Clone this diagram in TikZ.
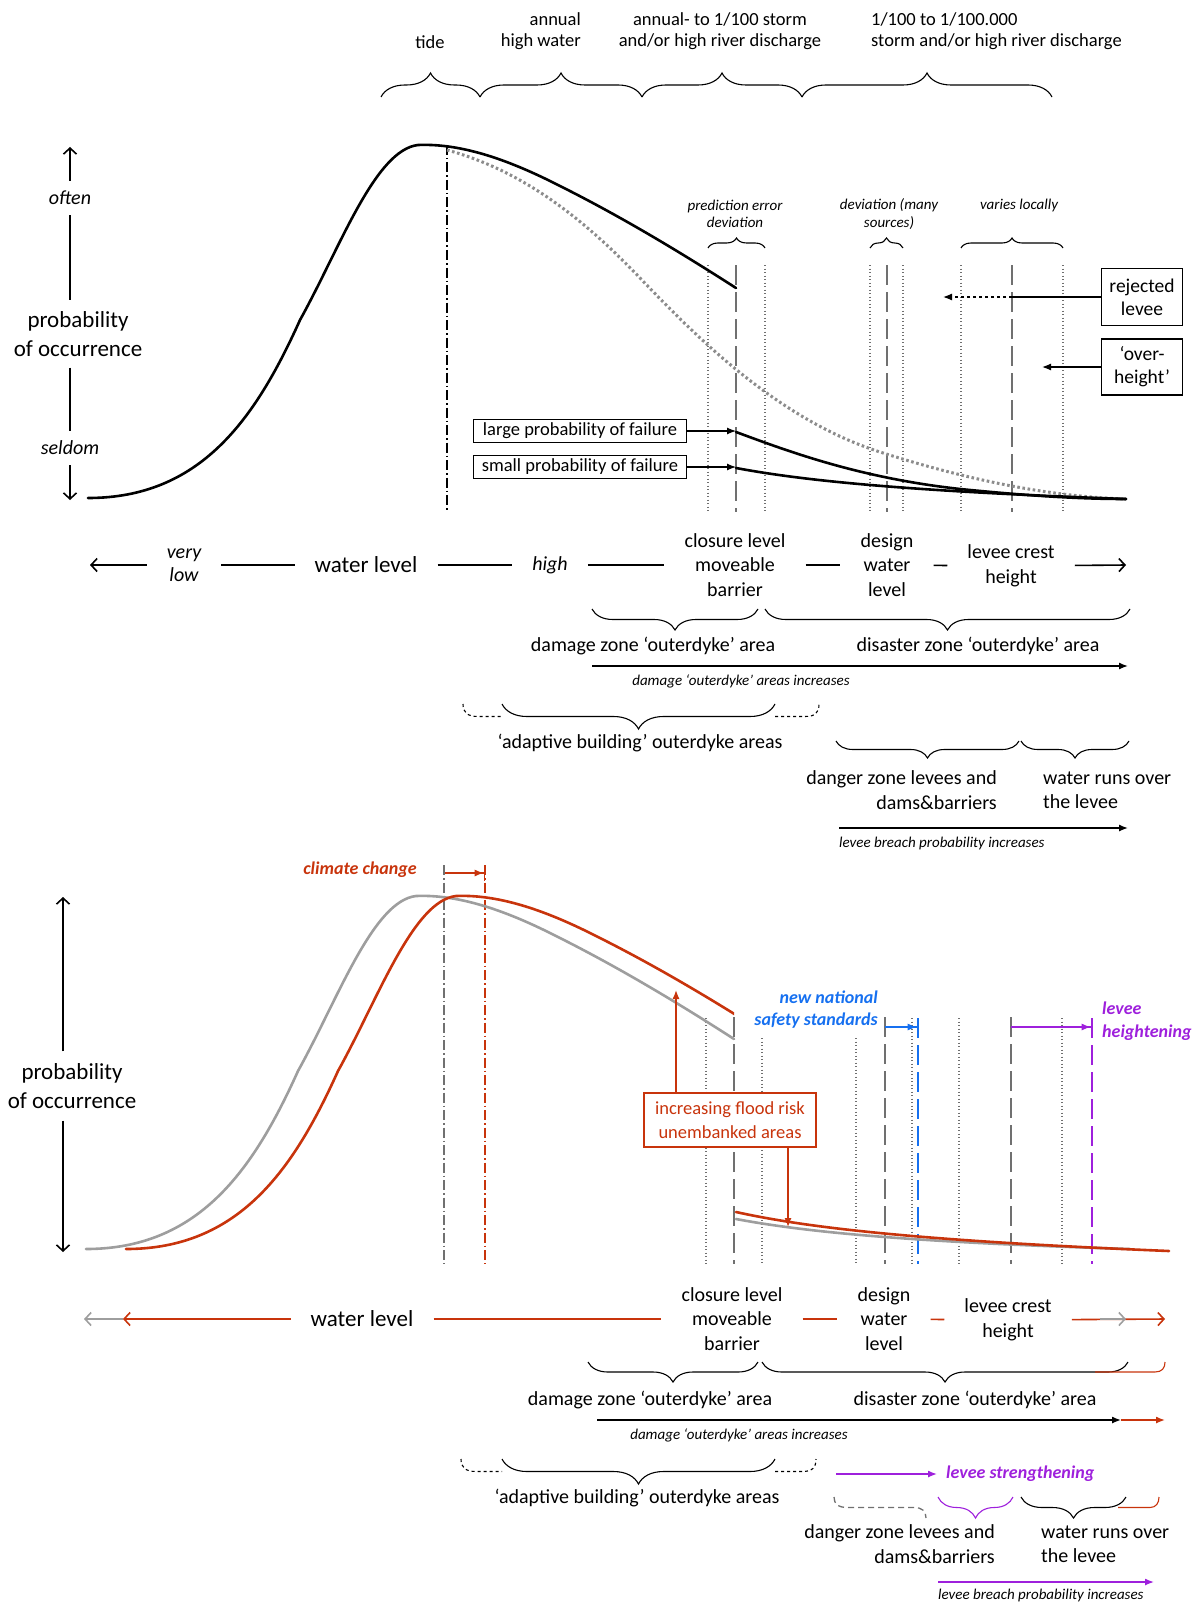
\documentclass[tikz,border=0pt]{standalone}
\usepackage{fontspec}
\setmainfont{Carlito}
\usetikzlibrary{arrows.meta,decorations.pathreplacing,positioning}
\definecolor{floodred}{RGB}{200,52,12}
\definecolor{curvegray}{RGB}{158,158,158}
\definecolor{dotgray}{RGB}{140,140,140}
\definecolor{linegray}{RGB}{112,112,112}
\definecolor{safetyblue}{RGB}{22,112,240}
\definecolor{leveepurple}{RGB}{158,32,220}
\newcommand{\sz}[2]{\fontsize{#1}{#2}\selectfont}
% frequency curve: rising flank, peak and falling flank
\newcommand{\freqcurve}{(88,498) .. controls (200,498) and (255,420) .. (300,320)
  .. controls (340,248) and (375,150) .. (418,145)
  .. controls (465,143) and (515,163) .. (560,186)
  .. controls (620,216) and (680,252) .. (736,288)}

\begin{document}
\begin{tikzpicture}[x=1pt,y=-1pt]

\tikzset{
  lbl/.style={inner sep=0pt, align=center, font=\sz{20}{24.5}},
  axlbl/.style={lbl, inner xsep=20pt},
  biglbl/.style={font=\sz{23}{27}},
  sidelbl/.style={lbl, font=\sz{23}{28.5}, inner ysep=11pt},
  toplbl/.style={inner sep=0pt, align=center, font=\sz{18.5}{21.5}},
  note/.style={inner sep=0pt, align=center, font=\sz{15}{17.5}\itshape},
  tiny/.style={inner sep=0pt, font=\sz{15}{17}\itshape},
  hint/.style={inner sep=0pt, font=\sz{18}{22}\bfseries\itshape},
  box/.style={draw, line width=1.2pt, inner sep=0pt, align=center},
  axis/.style={line width=1.6pt},
  openhead/.style={-{Straight Barb[length=6pt,width=13pt]}},
  solidhead/.style={-{Latex[length=9pt,width=7pt]}},
  barhead/.style={-{Latex[length=9pt,width=7pt]Bar[width=16pt]}},
  bru/.style={decorate, decoration={brace, amplitude=#1}, line width=1.1pt},
  brd/.style={decorate, decoration={brace, mirror, amplitude=#1}, line width=1.1pt},
  curve/.style={line width=2.6pt, line cap=round},
  dotcurve/.style={dotgray, line width=3pt, dash pattern=on 2.6pt off 2.6pt},
  dotline/.style={linegray, line width=1.3pt, dash pattern=on 1.3pt off 2.2pt},
  dashline/.style={linegray, line width=1.8pt, dash pattern=on 20pt off 7pt},
  dashdot/.style={line width=1.2pt, dash pattern=on 10pt off 3pt on 1.5pt off 3pt}
}

\useasboundingbox (0,0) rectangle (1203,1605);

% ---------------- upper graph ----------------
\node[toplbl] (tide) at (430,42) {tide};
\node[toplbl, align=right, anchor=east] (annual) at (581,31) {annual\\high water};
\node[toplbl] (storm) at (720,31) {annual- to 1/100 storm\\and/or high river discharge};
\node[toplbl, align=left, anchor=west] (extreme) at (871,31) {1/100 to 1/100.000\\storm and/or high river discharge};
\draw[bru=24] (381,97) -- (480,97);
\draw[bru=24] (480,97) -- (642,97);
\draw[bru=24] (642,97) -- (802,97);
\draw[bru=24] (802,97) -- (1052,97);

\node[lbl, font=\sz{20}{24}\itshape, inner ysep=10pt] (often) at (70,198) {often};
\node[sidelbl] (prob) at (78,334) {probability\\of occurrence};
\node[lbl, font=\sz{20}{24}\itshape, inner ysep=10pt] (seldom) at (70,448) {seldom};
\coordinate (probtop) at (70,147);
\coordinate (probbot) at (70,500);
\draw[axis, openhead] (often) -- (probtop);
\draw[axis] (often.south) -- (often.south |- prob.north);
\draw[axis] (seldom.north |- prob.south) -- (seldom.north);
\draw[axis, openhead] (seldom) -- (probbot);

\draw[dashdot] (447,145) -- (447,512);
\foreach \x in {708,765,870,903,961,1063}
  \draw[dotline] (\x,265) -- (\x,512);
\foreach \x in {736,887,1012}
  \draw[dashline] (\x,265) -- (\x,512);

\draw[bru=10] (708,248) -- (765,248);
\draw[bru=10] (870,248) -- (903,248);
\draw[bru=10] (961,248) -- (1063,248);
\node[note] (prederr) at (735,214) {prediction error\\deviation};
\node[note] (manysrc) at (889,214) {deviation (many\\sources)};
\node[note] (varies) at (1019,206) {varies locally};

\draw[dotcurve] (447,150) .. controls (520,170) and (580,215) .. (640,278)
  .. controls (700,341) and (780,420) .. (880,452)
  .. controls (980,484) and (1060,497) .. (1126,499);
\draw[curve] \freqcurve;
\draw[curve] (736,432) .. controls (790,452) and (860,478) .. (960,489)
  .. controls (1030,496) and (1080,499) .. (1126,499);
\draw[curve] (736,468) .. controls (800,480) and (900,491) .. (1126,499);

\node[box, minimum width=81pt, minimum height=57pt, font=\sz{19.5}{23}] (rejected) at (1142,297) {rejected\\levee};
\node[box, minimum width=81pt, minimum height=56pt, font=\sz{19.5}{23}] (overheight) at (1142,367) {‘over-\\height’};
\coordinate (rejsplit) at (1012,297);
\coordinate (rejtip) at (943,297);
\coordinate (overtip) at (1042,367);
\draw[line width=1.2pt] (rejected.west) -- (rejsplit);
\draw[line width=1.2pt, dashed, solidhead] (rejsplit) -- (rejtip);
\draw[line width=1.2pt, solidhead] (overheight.west) -- (overtip);

\node[box, minimum width=213pt, minimum height=23pt, font=\sz{18.5}{20}] (large) at (580,431) {large probability of failure};
\node[box, minimum width=213pt, minimum height=23pt, font=\sz{18.5}{20}] (small) at (580,467) {small probability of failure};
\coordinate (largetip) at (736,431);
\coordinate (smalltip) at (736,467);
\draw[line width=1.2pt, solidhead] (large.east) -- (largetip);
\draw[line width=1.2pt, solidhead] (small.east) -- (smalltip);

% water level axis
\coordinate (wlleft) at (90,565);
\coordinate (wlright) at (1126,565);
\node[axlbl, font=\sz{20}{23}\itshape] (verylow) at (184,565) {very\\low};
\node[axlbl, biglbl] (wlevel) at (366,565) {water level};
\node[axlbl, font=\sz{20}{24}\itshape] (high) at (550,565) {high};
\node[axlbl] (closure) at (735,565) {closure level\\moveable\\barrier};
\node[axlbl] (design) at (887,565) {design\\water\\level};
\node[axlbl] (crest) at (1011,566) {levee crest\\height};
\draw[axis, openhead] (verylow) -- (wlleft);
\draw[axis] (verylow) -- (wlevel);
\draw[axis] (wlevel) -- (high);
\draw[axis] (high) -- (closure);
\draw[axis] (closure) -- (design);
\draw[axis] (design) -- (crest);
\draw[axis, openhead] (crest) -- (wlright);

\draw[brd=21] (592,609) -- (758,609);
\draw[brd=21] (765,609) -- (1130,609);
\node[lbl] (damage) at (653,646) {damage zone ‘outerdyke’ area};
\node[lbl] (disaster) at (978,646) {disaster zone ‘outerdyke’ area};
\coordinate (dmgstart) at (592,666);
\coordinate (dmgend) at (1128,666);
\draw[line width=1.4pt, solidhead] (dmgstart) -- (dmgend);
\node[tiny] (dmgnote) at (741,681) {damage ‘outerdyke’ areas increases};

\draw[brd=25] (502,704) -- (775,704);
\draw[line width=1.1pt, dashed] (463,704) .. controls (463,713) and (468,716.5) .. (478,716.5) -- (502,716.5);
\draw[line width=1.1pt, dashed] (775,716.5) -- (805,716.5) .. controls (815,716.5) and (819,713) .. (819,704);
\node[lbl] (adaptive) at (640,743) {‘adaptive building’ outerdyke areas};

\draw[brd=17] (836,741) -- (1019,741);
\draw[brd=17] (1021,741) -- (1129,741);
\node[lbl, align=right, anchor=east] (danger) at (997,790) {danger zone levees and\\dams\&barriers};
\node[lbl, align=left, anchor=west] (overflow) at (1043,790) {water runs over\\the levee};
\coordinate (brstart) at (839,828);
\coordinate (brend) at (1128,828);
\draw[line width=1.4pt, solidhead] (brstart) -- (brend);
\node[tiny, anchor=west] (brnote) at (839,843) {levee breach probability increases};

% ---------------- lower graph ----------------
\node[hint, floodred] (climate) at (360,870) {climate change};
\coordinate (oldpeak) at (444,873);
\coordinate (newpeak) at (485,873);
\draw[floodred, line width=1.3pt, barhead] (oldpeak) -- (newpeak);
\draw[dashdot, linegray] (444,865) -- (444,1264);
\draw[dashdot, floodred] (485,865) -- (485,1264);

\node[sidelbl, inner ysep=12pt] (prob2) at (72,1086) {probability\\of occurrence};
\coordinate (prob2top) at (63,897);
\coordinate (prob2bot) at (63,1252);
\draw[axis, openhead] (prob2.north -| prob2top) -- (prob2top);
\draw[axis, openhead] (prob2.south -| prob2bot) -- (prob2bot);

\foreach \x/\y in {706/1018,762/1038,856/1038,912/1018,959/1018,1062/1018}
  \draw[dotline] (\x,\y) -- (\x,1264);
\foreach \x in {734,885,1011}
  \draw[dashline] (\x,1017) -- (\x,1264);
\draw[safetyblue, line width=2.2pt, dash pattern=on 20pt off 7pt] (918,1018) -- (918,1264);
\draw[leveepurple, line width=2.2pt, dash pattern=on 20pt off 7pt] (1092,1018) -- (1092,1264);

\draw[curvegray, curve, shift={(-2,751)}] \freqcurve;
\draw[curvegray, curve] (736,1219) .. controls (800,1231) and (900,1242) .. (1130,1249);
\begin{scope}
  \clip (0,0) rectangle (734,1605);
  \draw[floodred, curve, shift={(38,751)}] \freqcurve;
\end{scope}
\draw[floodred, curve] (736,1212) .. controls (800,1226) and (900,1240) .. (1169,1251);

\node[hint, safetyblue, align=right, anchor=east] (national) at (878,1010) {new national\\safety standards};
\node[hint, leveepurple, align=left, anchor=west, font=\sz{18}{23}\bfseries\itshape] (heighten) at (1102,1021) {levee\\heightening};
\coordinate (oldnorm) at (885,1027);
\coordinate (newnorm) at (918,1027);
\coordinate (oldcrest) at (1011,1027);
\coordinate (newcrest) at (1092,1027);
\draw[safetyblue, line width=1.3pt, barhead] (oldnorm) -- (newnorm);
\draw[leveepurple, line width=1.3pt, barhead] (oldcrest) -- (newcrest);

\node[box, draw=floodred, fill=white, text=floodred, minimum width=172pt, minimum height=54pt, font=\sz{18.5}{23.5}] (floodrisk) at (730,1120) {increasing flood risk\\unembanked areas};
\coordinate (risktop) at (676,990);
\coordinate (riskbot) at (788,1227);
\draw[floodred, line width=1.3pt, solidhead] (floodrisk.north -| risktop) -- (risktop);
\draw[floodred, line width=1.3pt, solidhead] (floodrisk.south -| riskbot) -- (riskbot);

% water level axis, shifted
\coordinate (wl2gray) at (84,1319);
\coordinate (wl2red) at (123,1319);
\coordinate (wl2right) at (1165,1319);
\coordinate (wl2old) at (1100,1319);
\coordinate (wl2oldtip) at (1126,1319);
\node[axlbl, biglbl] (wlevel2) at (362,1319) {water level};
\node[axlbl] (closure2) at (732,1319) {closure level\\moveable\\barrier};
\node[axlbl] (design2) at (884,1319) {design\\water\\level};
\node[axlbl] (crest2) at (1008,1320) {levee crest\\height};
\draw[axis, curvegray, openhead] (wl2red) -- (wl2gray);
\draw[axis, floodred, openhead] (wlevel2) -- (wl2red);
\draw[axis, floodred] (wlevel2) -- (closure2);
\draw[axis, floodred] (closure2) -- (design2);
\draw[axis, floodred] (design2) -- (crest2);
\draw[axis, floodred, openhead] (crest2) -- (wl2right);
\draw[axis, curvegray, openhead] (wl2old) -- (wl2oldtip);

\draw[brd=20] (588,1362) -- (758,1362);
\draw[brd=20] (762,1362) -- (1128,1362);
\draw[floodred, line width=1.1pt] (1095,1372) -- (1155,1372) .. controls (1162,1372) and (1165,1368) .. (1165,1362);
\node[lbl] (damage2) at (650,1400) {damage zone ‘outerdyke’ area};
\node[lbl] (disaster2) at (975,1400) {disaster zone ‘outerdyke’ area};
\coordinate (dmg2start) at (597,1420);
\coordinate (dmg2mid) at (1121,1420);
\coordinate (dmg2end) at (1165,1420);
\draw[line width=1.4pt, solidhead] (dmg2start) -- (dmg2mid);
\draw[floodred, line width=1.4pt, solidhead] (dmg2mid) -- (dmg2end);
\node[tiny] (dmgnote2) at (739,1435) {damage ‘outerdyke’ areas increases};

\draw[brd=25] (502,1459) -- (775,1459);
\draw[line width=1.1pt, dashed] (461,1459) .. controls (461,1468) and (466,1471.5) .. (476,1471.5) -- (502,1471.5);
\draw[line width=1.1pt, dashed] (775,1471.5) -- (802,1471.5) .. controls (812,1471.5) and (816,1468) .. (816,1459);
\node[lbl] (adaptive2) at (637,1498) {‘adaptive building’ outerdyke areas};

\coordinate (strstart) at (836,1474);
\coordinate (strend) at (937,1474);
\draw[leveepurple, line width=1.4pt, solidhead] (strstart) -- (strend);
\node[hint, leveepurple, anchor=west] (strength) at (946,1474) {levee strengthening};

\draw[linegray, line width=1.3pt, dash pattern=on 6pt off 4pt] (834,1497) .. controls (834,1504) and (838,1507.5) .. (848,1507.5) -- (914,1507.5) .. controls (922,1507.5) and (926,1511) .. (926,1518);
\draw[brd=21, leveepurple] (938,1497) -- (1013,1497);
\draw[brd=21] (1021,1497) -- (1126,1497);
\draw[floodred, line width=1.1pt] (1118,1507.5) -- (1150,1507.5) .. controls (1156,1507.5) and (1159,1503) .. (1159,1497);
\node[lbl, align=right, anchor=east] (danger2) at (995,1544) {danger zone levees and\\dams\&barriers};
\node[lbl, align=left, anchor=west] (overflow2) at (1041,1544) {water runs over\\the levee};
\coordinate (br2start) at (938,1582);
\coordinate (br2end) at (1154,1582);
\draw[leveepurple, line width=1.4pt, solidhead] (br2start) -- (br2end);
\node[tiny, anchor=west] (brnote2) at (938,1595) {levee breach probability increases};

\end{tikzpicture}
\end{document}
